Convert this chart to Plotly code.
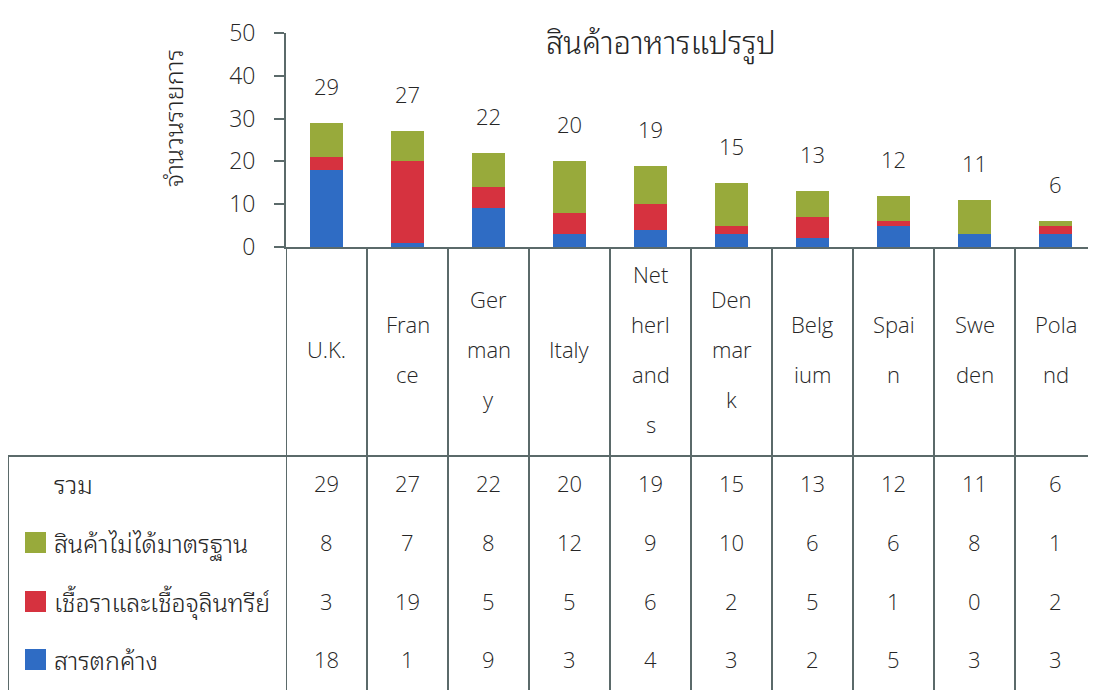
import plotly.graph_objects as go

# ---------------- data ----------------
countries = ["U.K.", "France", "Germany", "Italy", "Netherlands",
             "Denmark", "Belgium", "Spain", "Sweden", "Poland"]
country_label_lines = [["U.K."], ["Fran", "ce"], ["Ger", "man", "y"], ["Italy"],
                       ["Net", "herl", "and", "s"], ["Den", "mar", "k"],
                       ["Belg", "ium"], ["Spai", "n"], ["Swe", "den"], ["Pola", "nd"]]
residue = [18, 1, 9, 3, 4, 3, 2, 5, 3, 3]            # สารตกค้าง
mould = [3, 19, 5, 5, 6, 2, 5, 1, 0, 2]              # เชื้อราและเชื้อจุลินทรีย์
substandard = [8, 7, 8, 12, 9, 10, 6, 6, 8, 1]       # สินค้าไม่ได้มาตรฐาน
totals = [29, 27, 22, 20, 19, 15, 13, 12, 11, 6]     # รวม

name_residue = "สารตกค้าง"
name_mould = "เชื้อราและเชื้อจุลินทรีย์"
name_sub = "สินค้าไม่ได้มาตรฐาน"
name_total = "รวม"
title_text = "สินค้าอาหารแปรรูป"
ytitle_text = "จำนวนรายการ"
y_ticks = [0, 10, 20, 30, 40, 50]

# ---------------- style ----------------
OFF = 8                      # page body margin
W, H = 1096 - OFF, 690 - OFF
C_GREEN = "#98aa3b"
C_RED = "#d6323f"
C_BLUE = "#2f6cc4"
C_LINE = "#5b6a6a"
C_TEXT = "#262626"
FONT_LAT = "Open Sans, Noto Sans, DejaVu Sans, sans-serif"
FONT_TH = "Noto Sans Thai Looped, Noto Sans Thai, Noto Sans, sans-serif"

X0_PX = 286
Y_BASE_PX = 247
Y_TOP_PX = 33
TABLE_TOP_PX = 456
LEFT_PX = 8


def py(px):
    return (H - (px - OFF)) / H


def pxx(px):
    return (px - OFF) / W


def F(size):
    return dict(size=size, color=C_TEXT, family=FONT_LAT, weight=300)


def FT(size):
    return dict(size=size, color=C_TEXT, family=FONT_TH, weight=300)


fig = go.Figure()
for name, vals, col in [(name_residue, residue, C_BLUE),
                        (name_mould, mould, C_RED),
                        (name_sub, substandard, C_GREEN)]:
    fig.add_trace(go.Bar(x=countries, y=vals, name=name, marker_color=col,
                         marker_line_width=0, width=0.4, showlegend=False))

fig.update_layout(
    barmode="stack",
    width=W, height=H,
    margin=dict(l=0, r=0, t=0, b=0, autoexpand=False),
    showlegend=False,
    paper_bgcolor="white", plot_bgcolor="white",
    font=dict(family=FONT_TH, color=C_TEXT, size=22),
    xaxis=dict(domain=[pxx(X0_PX), 1], range=[-0.5, 9.5], showticklabels=False,
               showline=True, linecolor=C_LINE, linewidth=2, ticks="",
               showgrid=False, zeroline=False, fixedrange=True),
    yaxis=dict(domain=[py(Y_BASE_PX), py(Y_TOP_PX)], range=[0, 50],
               tickvals=y_ticks, ticks="outside", ticklen=10, tickwidth=1.5,
               tickcolor=C_LINE, showline=True, linecolor=C_LINE, linewidth=2,
               showgrid=False, zeroline=False, ticklabelstandoff=14,
               tickfont=F(23)),
)

A = dict(showarrow=False, xanchor="center", yanchor="middle")
ann = []
# title & y title
ann.append(dict(text=title_text, x=pxx(661), y=py(40), xref="paper", yref="paper",
                font=FT(31), **A))
ann.append(dict(text=ytitle_text, x=pxx(172), y=py(118), xref="paper", yref="paper",
                textangle=-90, font=FT(25), **A))
# totals above bars
for c, t in zip(countries, totals):
    ann.append(dict(text=str(t), x=c, y=t, xref="x", yref="y",
                    yshift=37, font=F(22), **A))
# category labels (wrapped)
CAT_CENTER = 349
LINE_SP = 50
for c, lines in zip(countries, country_label_lines):
    n = len(lines)
    for k, s in enumerate(lines):
        ypx = CAT_CENTER + (k - (n - 1) / 2) * LINE_SP
        ann.append(dict(text=s, x=c, y=py(ypx), xref="x", yref="paper",
                        font=F(22), **A))
# table rows
rows = [(name_total, totals, None), (name_sub, substandard, C_GREEN),
        (name_mould, mould, C_RED), (name_residue, residue, C_BLUE)]
row_px = [483, 542, 601, 659]
shapes = []
for (label, vals, col), rp in zip(rows, row_px):
    ann.append(dict(text=label, x=pxx(52), y=py(rp), xref="paper", yref="paper",
                    showarrow=False, xanchor="left", yanchor="middle",
                    font=FT(25)))
    if col:
        shapes.append(dict(type="rect", xref="paper", yref="paper",
                           x0=pxx(25), x1=pxx(46), y0=py(rp + 11), y1=py(rp - 10),
                           fillcolor=col, line=dict(width=0)))
    for c, v in zip(countries, vals):
        ann.append(dict(text=str(v), x=c, y=py(rp), xref="x", yref="paper",
                        font=F(22), **A))

# grid lines
ln = dict(color=C_LINE, width=2)
for i in range(len(countries) + 1):
    shapes.append(dict(type="line", xref="x", yref="paper", x0=i - 0.5, x1=i - 0.5,
                       y0=py(Y_BASE_PX), y1=0, line=ln))
shapes.append(dict(type="line", xref="paper", yref="paper", x0=pxx(LEFT_PX), x1=1,
                   y0=py(TABLE_TOP_PX), y1=py(TABLE_TOP_PX), line=ln))
shapes.append(dict(type="line", xref="paper", yref="paper", x0=pxx(LEFT_PX), x1=pxx(LEFT_PX),
                   y0=py(TABLE_TOP_PX), y1=0, line=ln))

fig.update_layout(annotations=ann, shapes=shapes)
fig.write_html("out.html")
